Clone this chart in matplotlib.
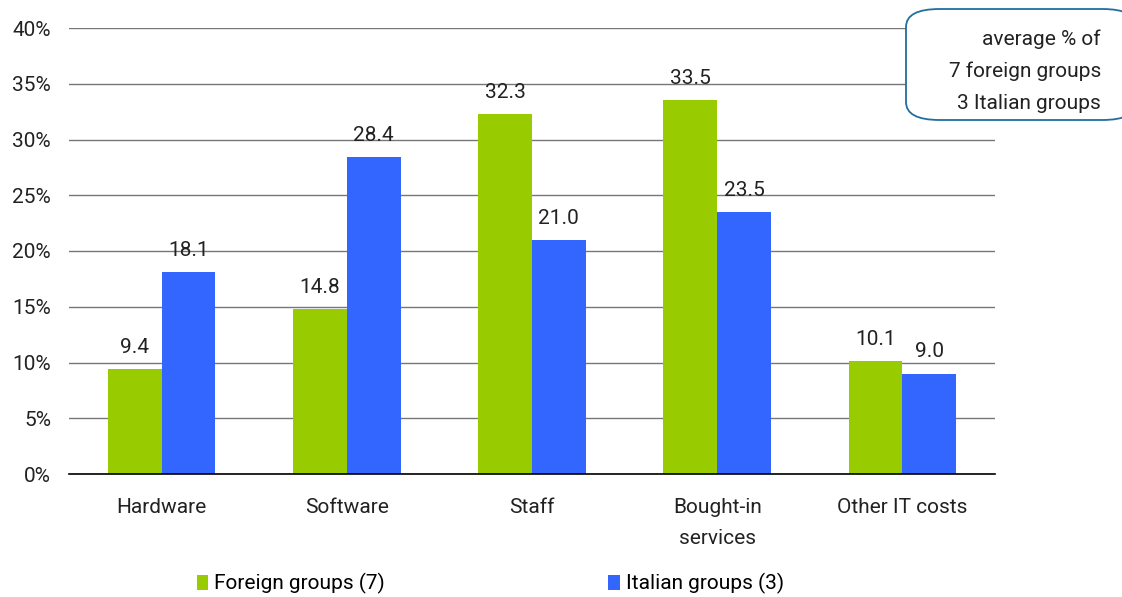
## grouped bar chart of IT cost shares, foreign vs italian groups

import matplotlib.pyplot as plt
from matplotlib.patches import FancyBboxPatch
import numpy as np

categories = ['Hardware', 'Software', 'Staff', 'Bought-in\nservices', 'Other IT costs']
foreign = [9.4, 14.8, 32.3, 33.5, 10.1]
italian = [18.1, 28.4, 21.0, 23.5, 9.0]
yticks = [0, 5, 10, 15, 20, 25, 30, 35, 40]

green = '#99CC00'
blue = '#3366FF'
fs = 15

plt.rcParams['font.family'] = ['Roboto', 'DejaVu Sans']

fig = plt.figure(figsize=(11.22, 5.97), dpi=100)
ax = fig.add_axes([69 / 1122, 1 - 474 / 597, 926 / 1122, 446 / 597])

x = np.arange(len(categories))
w = 0.29
b1 = ax.bar(x - w / 2, foreign, w, color=green, label='Foreign groups (7)', zorder=3)
b2 = ax.bar(x + w / 2, italian, w, color=blue, label='Italian groups (3)', zorder=3)

# value labels over each bar
for bars, vals in ((b1, foreign), (b2, italian)):
    for r, v in zip(bars, vals):
        ax.text(r.get_x() + r.get_width() / 2, v + 1.1, f'{v:.1f}',
                ha='center', va='bottom', fontsize=fs, color='#222222')

ax.set_xlim(-0.5, len(categories) - 0.5)
ax.set_ylim(0, 40)
ax.set_yticks(yticks)
ax.set_yticklabels([f'{t}%' for t in yticks], fontsize=fs, color='#222222')
ax.set_xticks(x)
ax.set_xticklabels(categories, fontsize=fs, color='#222222', linespacing=1.8)
ax.tick_params(axis='x', length=0, pad=17)
ax.tick_params(axis='y', length=0, pad=13)
ax.yaxis.grid(True, color='#777777', linewidth=1)
ax.set_axisbelow(True)
for s in ('left', 'right', 'top'):
    ax.spines[s].set_visible(False)
ax.spines['bottom'].set_color('black')
ax.spines['bottom'].set_linewidth(1.2)
ax.spines['bottom'].set_zorder(4)

# legend along the bottom
fig.legend(handles=[b1, b2], loc='lower left', bbox_to_anchor=(178 / 1122, -0.027),
           ncol=2, frameon=False, fontsize=fs, handlelength=0.55, handleheight=0.7,
           handletextpad=0.3, columnspacing=10.7)

# note box in the top right corner
box = FancyBboxPatch((906 / 1122, 1 - 120 / 597), 230 / 1122, 111 / 597,
                     boxstyle='round,pad=0,rounding_size=0.03', transform=fig.transFigure,
                     facecolor='white', edgecolor='#1F6FA0', linewidth=1.3, zorder=5)
fig.patches.append(box)
fig.text(1101 / 1122, 1 - 113 / 597, 'average % of\n7 foreign groups\n3 Italian groups',
         ha='right', va='bottom', fontsize=fs, linespacing=1.85, color='#222222', zorder=6)

fig.savefig('out.png', dpi=100)
